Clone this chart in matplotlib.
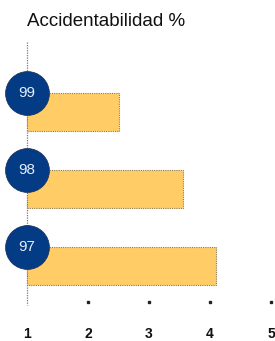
# ===============================
# Accidentabilidad % - horizontal bars
# ===============================

import matplotlib
matplotlib.use("Agg")
import matplotlib.pyplot as plt

years = ["99", "98", "97"]
values = [2.5, 3.55, 4.1]
xticks = [1, 2, 3, 4, 5]

font = "Liberation Sans"

fig = plt.figure(figsize=(2.75, 3.41), dpi=100)
ax = fig.add_axes([0, 0, 1, 1])
ax.set_xlim(1 - 27 / 61, 1 + 248 / 61)
ax.set_ylim(2.974, -1.455)
ax.axis("off")

pos = list(range(len(years)))

# bars
ax.barh(pos, [v - 1 for v in values], left=1, height=0.5,
        color="#FFCC66", edgecolor="#8a7a55", linewidth=0.8,
        linestyle=(0, (1, 1)), zorder=2)

# vertical axis line
ax.plot([1, 1], [-0.91, 2.51], color="#777777", lw=0.9,
        linestyle=(0, (1, 1)), zorder=1)

# circles with year labels
ax.scatter([1] * len(pos), [p - 0.25 for p in pos], s=1000,
           color="#033B84", edgecolor="#1d2f55", linewidth=0.5, zorder=3)
for p, y in zip(pos, years):
    ax.text(1, p - 0.25, y, color="#e6eef8", fontsize=11, ha="center",
            va="center", family=font, zorder=4)

# tick dots and labels
for t in xticks[1:]:
    ax.plot(t, 2.47, marker="s", ms=1.5, color="#222222", zorder=2)
for t in xticks:
    ax.text(t, 2.88, str(t), ha="center", va="center", fontsize=10,
            fontweight="bold", family=font, color="#111111")

ax.text(1, -1.17, "Accidentabilidad %", ha="left", va="center",
        fontsize=13.5, family=font, color="#111111")

plt.savefig("out.png", dpi=100)
